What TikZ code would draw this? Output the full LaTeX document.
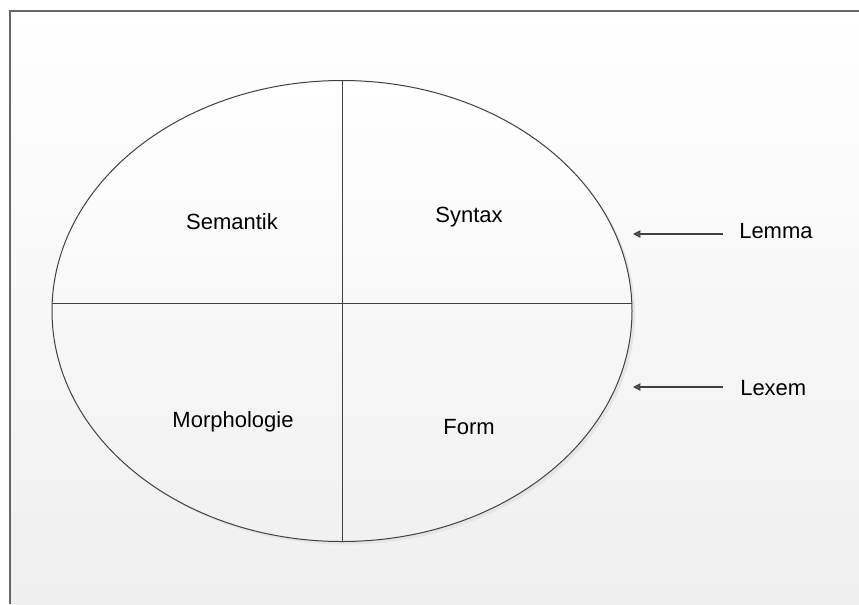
\documentclass[tikz,border=0pt]{standalone}
\usepackage{fontspec}
\setmainfont{Liberation Sans}
\usetikzlibrary{arrows.meta}
\definecolor{linec}{HTML}{404040}
\definecolor{bgbot}{HTML}{EFEFEF}
\begin{document}
\begin{tikzpicture}[x=0.75pt,y=-0.75pt,
  lbl/.style={font=\fontsize{16.5}{19}\selectfont, text=black, inner sep=0pt},
  conn/.style={draw=linec, line width=0.8pt, -{Triangle[length=5.5pt,width=5.5pt,fill=gray!70!black]}},
  divider/.style={draw=linec, line width=0.7pt}]
\useasboundingbox (0,0) rectangle (859,604);
\fill[white] (0,0) rectangle (859,604);
\shade[top color=white, bottom color=bgbot] (10,11) rectangle (859,604);
\draw[gray!80!black, line width=0.9pt] (10,604) -- (10,11) -- (859,11);
% shadow
\fill[black!10] (345,314) ellipse [x radius=290, y radius=230.5];
\filldraw[fill=white, draw=linec, line width=0.75pt, top color=white, bottom color=bgbot!90!white] (342,311) ellipse [x radius=290, y radius=230.5];
\coordinate (top) at (342,80.5);
\coordinate (bot) at (342,541.5);
\coordinate (lft) at (52.2,303);
\coordinate (rgt) at (631.8,303);
\draw[divider] (top) -- (bot);
\draw[divider] (lft) -- (rgt);
\node[lbl] (sem) at (232,222) {Semantik};
\node[lbl] (syn) at (469,217) {Syntax};
\node[lbl] (mor) at (233,422) {Morphologie};
\node[lbl] (form) at (469,427) {Form};
\node[lbl, anchor=west] (lemma) at (739,231) {Lemma};
\node[lbl, anchor=west] (lexem) at (740,388) {Lexem};
\coordinate (lemS) at (723,234);
\coordinate (lemE) at (633,234);
\coordinate (lexS) at (723,387);
\coordinate (lexE) at (633,387);
\draw[conn] (lemS) -- (lemE);
\draw[conn] (lexS) -- (lexE);
\end{tikzpicture}
\end{document}
